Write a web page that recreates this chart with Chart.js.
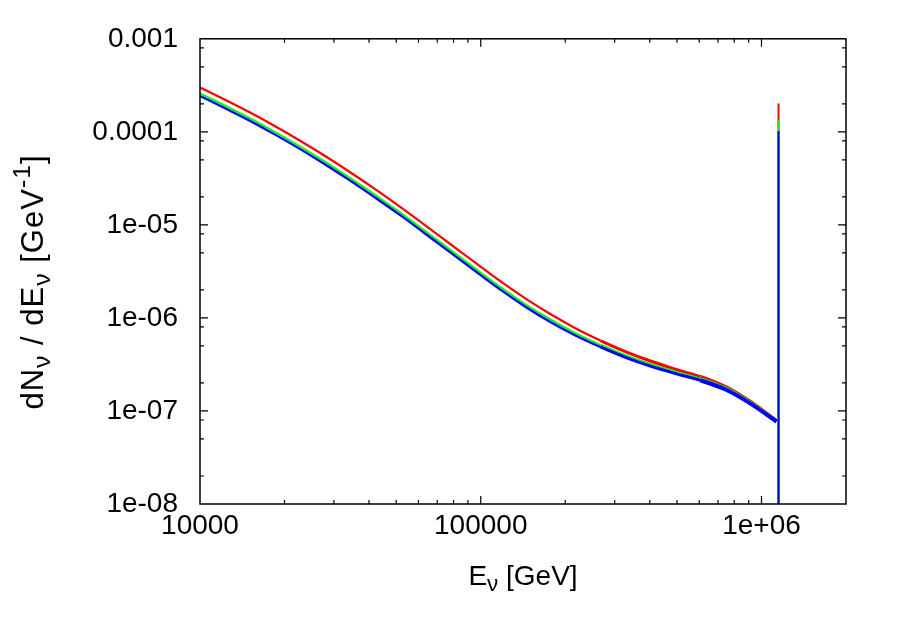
<!DOCTYPE html>
<html>
<head>
<meta charset="utf-8">
<script src="https://cdn.jsdelivr.net/npm/chart.js@4.4.0/dist/chart.umd.min.js"></script>
<style>
  html, body { margin: 0; padding: 0; background: #fff; }
  #chart { display: block; }
</style>
</head>
<body>
<canvas id="chart" width="900" height="630"></canvas>
<script>
// neutrino energies [GeV]
var energy = [1.000e4, 1.228e4, 1.508e4, 1.851e4, 2.273e4, 2.790e4, 3.425e4, 4.206e4,
              5.164e4, 6.341e4, 7.785e4, 9.559e4, 1.174e5, 1.441e5, 1.769e5, 2.172e5,
              2.667e5, 3.275e5, 4.021e5, 4.936e5, 6.060e5, 7.442e5, 9.138e5, 1.131e6];

// dN/dE for the three flavours (red, green, blue)
var fluxRed   = [3.00e-4, 2.21e-4, 1.61e-4, 1.15e-4, 8.03e-5, 5.50e-5, 3.68e-5, 2.42e-5,
                 1.56e-5, 9.90e-6, 6.23e-6, 3.92e-6, 2.48e-6, 1.62e-6, 1.10e-6, 7.76e-7,
                 5.71e-7, 4.35e-7, 3.44e-7, 2.81e-7, 2.33e-7, 1.81e-7, 1.25e-7, 7.80e-8];
var fluxGreen = [2.59e-4, 1.91e-4, 1.39e-4, 9.92e-5, 6.93e-5, 4.74e-5, 3.17e-5, 2.09e-5,
                 1.35e-5, 8.54e-6, 5.37e-6, 3.38e-6, 2.14e-6, 1.40e-6, 9.61e-7, 6.86e-7,
                 5.11e-7, 3.94e-7, 3.16e-7, 2.61e-7, 2.20e-7, 1.74e-7, 1.22e-7, 7.70e-8];
var fluxBlue  = [2.43e-4, 1.79e-4, 1.31e-4, 9.33e-5, 6.52e-5, 4.46e-5, 2.99e-5, 1.96e-5,
                 1.27e-5, 8.03e-6, 5.06e-6, 3.18e-6, 2.01e-6, 1.32e-6, 9.03e-7, 6.48e-7,
                 4.87e-7, 3.77e-7, 3.03e-7, 2.52e-7, 2.13e-7, 1.70e-7, 1.20e-7, 7.70e-8];

// the delta-like peak at the end of the spectrum
var spikeEnergy = 1.15e6;
var spikeTops = [2.02e-4, 1.35e-4, 1.02e-4];   // red, green, blue
var spikeFloor = 1e-9;

var xTickValues = [1e4, 1e5, 1e6];
var xTickLabels = ['10000', '100000', '1e+06'];
var yTickValues = [1e-3, 1e-4, 1e-5, 1e-6, 1e-7, 1e-8];
var yTickLabels = ['0.001', '0.0001', '1e-05', '1e-06', '1e-07', '1e-08'];
var xMinorSteps = [2, 3, 4, 5, 6, 7, 8, 9];
var yMinorSteps = [2, 5, 8];

var FONT = "'Liberation Sans', Arial, sans-serif";

var toPoints = function(flux) {
    return energy.map(function(e, i) { return {x: e, y: flux[i]}; });
};

// tail of the MC spectrum is noisy, draw it a bit fatter
var tailWidth = function(ctx) {
    var e = ctx.p0.parsed.x;
    if (e >= 5e5) return 4;
    if (e >= 2.6e5) return 3;
    return 2.2;
};

var curve = function(flux, colour) {
    return {
        data: toPoints(flux),
        borderColor: colour,
        borderWidth: 2.2,
        pointRadius: 0,
        cubicInterpolationMode: 'monotone',
        clip: 0,
        segment: { borderWidth: tailWidth }
    };
};

var spike = function(top, colour) {
    return {
        data: [{x: spikeEnergy, y: top}, {x: spikeEnergy, y: spikeFloor}],
        borderColor: colour,
        borderWidth: 2,
        pointRadius: 0,
        tension: 0,
        clip: 0
    };
};

// the first dataset is painted last, so blue ends up on top
var datasets = [
    spike(spikeTops[2], '#0000ff'),
    curve(fluxBlue, '#0000ff'),
    spike(spikeTops[1], '#00ff00'),
    curve(fluxGreen, '#00ff00'),
    spike(spikeTops[0], '#ff0000'),
    curve(fluxRed, '#ff0000')
];

// draws rich text (sub/superscripts) starting at 0 along the current baseline
var drawRich = function(ctx, parts, size, measureOnly) {
    var x = 0;
    parts.forEach(function(p) {
        var s = p.sub || p.sup ? size * 0.8 : size;
        ctx.font = s + 'px ' + FONT;
        var dy = p.sub ? size * 0.22 : (p.sup ? -size * 0.42 : 0);
        if (!measureOnly) ctx.fillText(p.t, x, dy);
        x += ctx.measureText(p.t).width;
    });
    return x;
};

var gnuplotFrame = {
    id: 'gnuplotFrame',
    afterDatasetsDraw: function(chart) {
        var ctx = chart.ctx;
        var a = chart.chartArea;
        var xs = chart.scales.x, ys = chart.scales.y;
        ctx.save();
        ctx.strokeStyle = '#000';
        ctx.lineWidth = 1.5;
        ctx.strokeRect(a.left, a.top, a.right - a.left, a.bottom - a.top);

        ctx.lineWidth = 1.2;
        ctx.beginPath();
        var tickX = function(v, len) {
            var px = xs.getPixelForValue(v);
            if (px <= a.left + 0.5 || px >= a.right - 0.5) return;
            ctx.moveTo(px, a.bottom); ctx.lineTo(px, a.bottom - len);
            ctx.moveTo(px, a.top); ctx.lineTo(px, a.top + len);
        };
        var tickY = function(v, len) {
            var py = ys.getPixelForValue(v);
            if (py <= a.top + 0.5 || py >= a.bottom - 0.5) return;
            ctx.moveTo(a.left, py); ctx.lineTo(a.left + len, py);
            ctx.moveTo(a.right, py); ctx.lineTo(a.right - len, py);
        };
        xTickValues.forEach(function(v) {
            tickX(v, 8);
            xMinorSteps.forEach(function(m) { tickX(v * m, 4); });
        });
        yTickValues.forEach(function(v) {
            tickY(v, 8);
            yMinorSteps.forEach(function(m) { tickY(v * m, 4); });
        });
        ctx.stroke();

        // axis titles
        ctx.fillStyle = '#000';
        ctx.textBaseline = 'alphabetic';
        var xTitle = [{t: 'E'}, {t: '\u03bd', sub: true}, {t: ' [GeV]'}];
        var w = drawRich(ctx, xTitle, 28, true);
        ctx.save();
        ctx.translate((a.left + a.right) / 2 - w / 2, 585);
        drawRich(ctx, xTitle, 28);
        ctx.restore();

        var yTitle = [{t: 'dN'}, {t: '\u03bd', sub: true}, {t: ' / dE'}, {t: '\u03bd', sub: true},
                      {t: ' [GeV'}, {t: '-1', sup: true}, {t: ']'}];
        ctx.save();
        ctx.letterSpacing = '1px';
        w = drawRich(ctx, yTitle, 31, true);
        ctx.translate(43, 282 + w / 2);
        ctx.rotate(-Math.PI / 2);
        drawRich(ctx, yTitle, 31);
        ctx.restore();
        ctx.restore();
    }
};

window.onload = function() {
    var ctx = document.getElementById('chart').getContext('2d');
    window.fluxChart = new Chart(ctx, {
        type: 'line',
        data: { datasets: datasets },
        options: {
            responsive: false,
            animation: false,
            layout: { padding: { top: 36, right: 54, left: 0, bottom: 0 } },
            plugins: {
                legend: { display: false },
                tooltip: { enabled: false }
            },
            scales: {
                x: {
                    type: 'logarithmic',
                    min: 1e4,
                    max: 2e6,
                    grid: { display: false, drawTicks: false },
                    border: { display: false },
                    afterBuildTicks: function(scale) {
                        scale.ticks = xTickValues.map(function(v) { return {value: v}; });
                    },
                    afterFit: function(scale) { scale.height = 126; },
                    ticks: {
                        autoSkip: false,
                        maxRotation: 0,
                        padding: 5,
                        color: '#000',
                        font: { family: FONT, size: 28 },
                        callback: function(v) {
                            var i = xTickValues.indexOf(v);
                            return i >= 0 ? xTickLabels[i] : '';
                        }
                    }
                },
                y: {
                    type: 'logarithmic',
                    min: 1e-8,
                    max: 1e-3,
                    grid: { display: false, drawTicks: false },
                    border: { display: false },
                    afterBuildTicks: function(scale) {
                        scale.ticks = yTickValues.map(function(v) { return {value: v}; });
                    },
                    afterFit: function(scale) { scale.width = 200; },
                    ticks: {
                        autoSkip: false,
                        padding: 22,
                        color: '#000',
                        font: { family: FONT, size: 28 },
                        callback: function(v) {
                            var i = yTickValues.indexOf(v);
                            return i >= 0 ? yTickLabels[i] : '';
                        }
                    }
                }
            }
        },
        plugins: [gnuplotFrame]
    });
};
</script>
</body>
</html>
